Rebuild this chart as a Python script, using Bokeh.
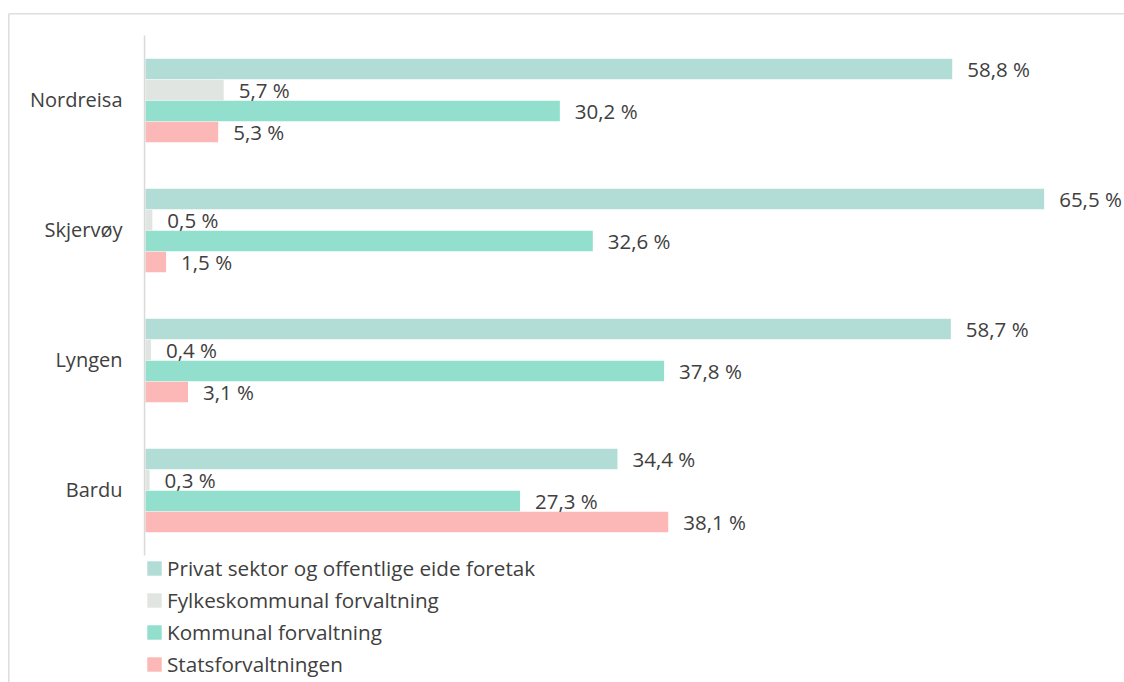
from bokeh.plotting import figure
from bokeh.models import ColumnDataSource, Range1d, Legend, LegendItem
from bokeh.core.properties import value
from bokeh.embed import file_html
from bokeh.resources import INLINE

# ---- data ----
cities = ["Nordreisa", "Skjervøy", "Lyngen", "Bardu"]
series = ["Privat sektor og offentlige eide foretak",
          "Fylkeskommunal forvaltning",
          "Kommunal forvaltning",
          "Statsforvaltningen"]
privat = [58.8, 65.5, 58.7, 34.4]
fylkes = [5.7, 0.5, 0.4, 0.3]
kommunal = [30.2, 32.6, 37.8, 27.3]
stats = [5.3, 1.5, 3.1, 38.1]
values_by_series = [privat, fylkes, kommunal, stats]
colors = ["#b2ddd6", "#e0e5e1", "#91dfcc", "#fcb8b6"]

# ---- layout constants ----
W, H = 1124, 682
PX_X = 13.72          # px per percent
PX_Y = 21.0           # px per bar slot
GROUP_STEP = 130.0 / PX_Y
AXIS_PX = 145.0       # x=0 position from figure left
TOP_CENTER_PX = 68.5  # centre of first bar from figure top
TEXT = "#404040"
FONT = "Open Sans"
GRID = "#d9d9d9"

x_start = -AXIS_PX / PX_X
x_end = (W - AXIS_PX) / PX_X
y_end = TOP_CENTER_PX / PX_Y
y_start = y_end - H / PX_Y

def ypos(g, k):
    return -(g * GROUP_STEP + k)

p = figure(width=W, height=H, output_backend="svg", toolbar_location=None,
           x_range=Range1d(x_start, x_end), y_range=Range1d(y_start, y_end),
           x_axis_type=None, y_axis_type=None, min_border=0,
           tools="")
p.grid.visible = False
p.outline_line_color = None
p.background_fill_color = "white"
p.border_fill_color = "white"

# outer chart-area border (top and left)
top_border_y = y_end - 13.2 / PX_Y
left_border_x = x_start + 8.3 / PX_X
p.segment(x0=[left_border_x], y0=[top_border_y], x1=[x_end], y1=[top_border_y],
          line_color="#dedede", line_width=1.6)
p.segment(x0=[left_border_x], y0=[top_border_y], x1=[left_border_x], y1=[y_start],
          line_color="#dedede", line_width=1.6)

# bars
renderers = []
label_x, label_y, label_t = [], [], []
for k, (name, vals, col) in enumerate(zip(series, values_by_series, colors)):
    ys = [ypos(g, k) for g in range(len(cities))]
    src = ColumnDataSource(dict(y=ys, right=vals))
    r = p.hbar(y="y", left=0, right="right", height=0.98, source=src,
               fill_color=col, line_color=None)
    renderers.append(r)
    for v, yy in zip(vals, ys):
        label_x.append(v)
        label_y.append(yy)
        label_t.append(f"{v:.1f}".replace(".", ",") + " %")

# vertical axis line
half_pad = 0.5 + (GROUP_STEP - 4) / 2
axis_top = ypos(0, 0) + half_pad
axis_bot = ypos(len(cities) - 1, 3) - half_pad
p.segment(x0=[-0.07], y0=[axis_top], x1=[-0.07], y1=[axis_bot],
          line_color=GRID, line_width=1.5)

# value labels
p.text(x=label_x, y=label_y, text=label_t, x_offset=15, y_offset=0,
       text_align="left", text_baseline="middle",
       text_font=value(FONT), text_font_size="20.5px", text_color=TEXT)

# category labels
cat_y = [ypos(g, 1.5) for g in range(len(cities))]
p.text(x=[0] * len(cities), y=cat_y, text=cities, x_offset=-23, y_offset=-1,
       text_align="right", text_baseline="middle",
       text_font=value(FONT), text_font_size="20px", text_color=TEXT)

legend = Legend(items=[LegendItem(label=n, renderers=[r]) for n, r in zip(series, renderers)],
                location=(145, 4), orientation="vertical",
                glyph_width=18, glyph_height=18, label_standoff=4,
                padding=0, margin=0, spacing=4, label_height=20,
                label_text_font=FONT, label_text_font_size="20.7px",
                label_text_color=TEXT, border_line_color=None,
                background_fill_alpha=0)
p.add_layout(legend)

open("out.html", "w").write(file_html(p, INLINE))
